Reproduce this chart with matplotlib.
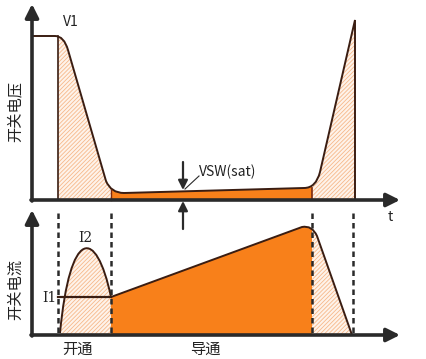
import matplotlib.pyplot as plt
import matplotlib.patches as mpatches
from matplotlib.path import Path

plt.rcParams['font.family'] = ['Noto Sans CJK SC', 'DejaVu Sans']
plt.rcParams['hatch.linewidth'] = 0.6

# diagram key points, in pixel units of a 426 x 359 canvas (y grows downward)
v_codes = [Path.MOVETO, Path.LINETO, Path.CURVE3, Path.CURVE3, Path.LINETO,
           Path.CURVE3, Path.CURVE3, Path.LINETO, Path.CURVE3, Path.CURVE3,
           Path.LINETO, Path.LINETO]
v_pts = [(32, 36), (55, 36), (64, 36), (68, 50), (106, 181),
         (111, 193), (124, 193), (304, 188), (316, 188), (320, 172),
         (355, 20), (355, 200)]

i_codes = [Path.MOVETO, Path.CURVE4, Path.CURVE4, Path.CURVE4, Path.LINETO,
           Path.CURVE3, Path.CURVE3, Path.LINETO]
i_pts = [(60, 333), (70, 228), (96, 226), (111, 297), (302, 227),
         (312, 225), (317, 236), (352, 335)]

v_base, i_base = 200, 335
t_on, t_cond, t_off, t_end_v, t_end_i = 58, 111, 312, 355, 353
i1_level = 297

ORANGE = '#f8801a'
HATCH_FACE = '#fef3ea'
HATCH_LINE = '#f6b88a'
DARK = '#2a2a2a'
CURVE = '#3a1d12'

fig = plt.figure(figsize=(4.26, 3.59), dpi=100)
ax = fig.add_axes([0, 0, 1, 1])
ax.set_xlim(0, 426)
ax.set_ylim(359, 0)
ax.axis('off')


def region(pts, codes, base):
    # close the curve down to the baseline
    pts = list(pts) + [(pts[-1][0], base), (pts[0][0], base), pts[0]]
    codes = list(codes) + [Path.LINETO, Path.LINETO, Path.CLOSEPOLY]
    return Path(pts, codes)


def fills(pts, codes, base, top, x0, x1, x2, x3):
    p = region(pts, codes, base)
    for a, b, solid in [(x0, x1, False), (x1, x2, True), (x2, x3, False)]:
        clip = mpatches.Rectangle((a, top), b - a, base - top, transform=ax.transData)
        if solid:
            patch = mpatches.PathPatch(p, facecolor=ORANGE, edgecolor='none')
        else:
            patch = mpatches.PathPatch(p, facecolor=HATCH_FACE, edgecolor=HATCH_LINE,
                                       lw=0, hatch='////////')
        ax.add_patch(patch)
        patch.set_clip_path(clip)


# top: switch voltage
fills(v_pts, v_codes, v_base, 0, t_on, t_cond, t_off, t_end_v)
ax.add_patch(mpatches.PathPatch(Path(v_pts, v_codes), fill=False, edgecolor=CURVE, lw=1.4))
ax.plot([t_on, t_on], [36, v_base], color=CURVE, lw=1.2)
ax.plot([t_cond, t_cond], [190, v_base], color='#7a2a10', lw=1)
ax.plot([t_off, t_off], [188, v_base], color='#7a2a10', lw=1.2)

# bottom: switch current
fills(i_pts, i_codes, i_base, 200, t_on, t_cond, t_off, t_end_i)
ax.add_patch(mpatches.PathPatch(Path(i_pts, i_codes), fill=False, edgecolor=CURVE, lw=1.4))
ax.plot([t_on, t_cond], [i1_level, i1_level], color=CURVE, lw=1.6)
for x in [t_on, t_cond, t_off, t_end_i]:
    ax.plot([x, x], [213, i_base], color=DARK, lw=1.8, ls=(0, (2.2, 1.6)))

# axes with arrow heads
arrow = dict(arrowstyle='-|>', lw=2.6, color=DARK, mutation_scale=20, shrinkA=0, shrinkB=0)
ax.annotate('', xy=(32, 4), xytext=(32, v_base + 1), arrowprops=arrow)
ax.annotate('', xy=(400, v_base), xytext=(31, v_base), arrowprops=arrow)
ax.annotate('', xy=(32, 210), xytext=(32, i_base + 1), arrowprops=arrow)
ax.annotate('', xy=(400, i_base), xytext=(31, i_base), arrowprops=arrow)

# VSW(sat) markers
small = dict(arrowstyle='-|>', lw=1.6, color=DARK, mutation_scale=14, shrinkA=0, shrinkB=0)
ax.annotate('', xy=(183, 190), xytext=(183, 162), arrowprops=small)
ax.annotate('', xy=(183, 201), xytext=(183, 229), arrowprops=small)
ax.plot([185, 199], [189, 176], color=DARK, lw=0.8)
ax.text(199, 172, 'VSW(sat)', fontsize=10, va='center', ha='left', color='#222')

# labels
ax.text(63, 22, 'V1', fontsize=10, va='center', ha='left', color='#222')
ax.text(390, 217, 't', fontsize=10, va='center', ha='center', color='#222')
ax.text(85, 238, 'I2', fontsize=10, va='center', ha='center', family='DejaVu Serif', color='#222')
ax.text(49, 298, 'I1', fontsize=10, va='center', ha='center', family='DejaVu Serif', color='#222')
ax.text(15, 112, '开关电压', fontsize=11, rotation=90, va='center', ha='center', color='#222')
ax.text(15, 290, '开关电流', fontsize=11, rotation=90, va='center', ha='center', color='#222')
ax.text(77, 349, '开通', fontsize=11, va='center', ha='center', color='#222')
ax.text(205, 349, '导通', fontsize=11, va='center', ha='center', color='#222')

fig.savefig('out.png', dpi=100)
